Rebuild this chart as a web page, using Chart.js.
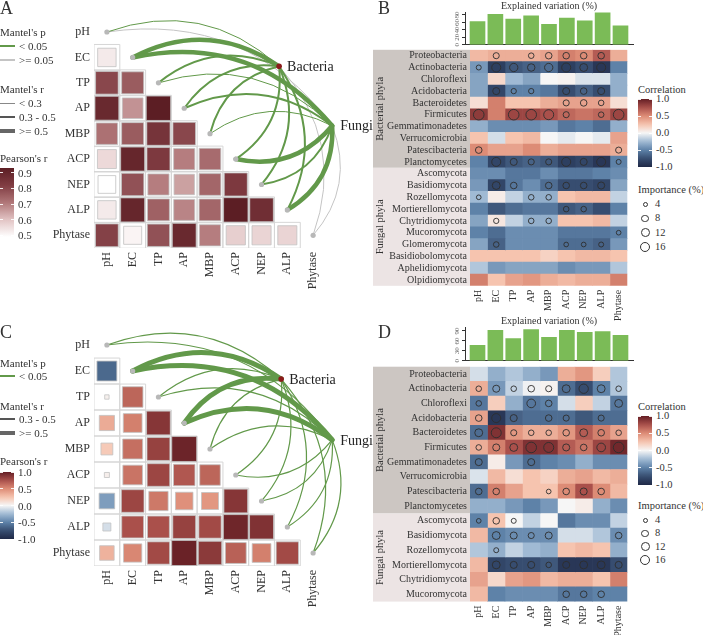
<!DOCTYPE html>
<html>
<head>
<meta charset="utf-8">
<title>Mantel tests and phyla correlations</title>
<script src="https://cdn.jsdelivr.net/npm/chart.js@4.4.1/dist/chart.umd.min.js"></script>
<style>
  body { margin: 0; background: #fff; }
  #page { position: relative; width: 703px; height: 635px; overflow: hidden; font-family: 'Liberation Serif', 'DejaVu Serif', serif; color: #333; }
  #page canvas { position: absolute; }
  .txt { position: absolute; white-space: nowrap; line-height: 1; transform: translateY(-50%); }
  .key { position: absolute; }
</style>
</head>
<body>
<div id="page">
  <canvas id="heatB" width="275" height="300" style="left:360px;top:40px"></canvas>
  <canvas id="heatD" width="275" height="280" style="left:360px;top:355px"></canvas>
  <canvas id="barB" width="260" height="50" style="left:420px;top:0px"></canvas>
  <canvas id="barD" width="260" height="56" style="left:420px;top:310px"></canvas>
  <canvas id="chartA" width="380" height="310" style="left:0px;top:0px"></canvas>
  <canvas id="chartC" width="380" height="325" style="left:0px;top:310px"></canvas>
</div>
<script>
const envLabels = ['pH', 'EC', 'TP', 'AP', 'MBP', 'ACP', 'NEP', 'ALP', 'Phytase'];

// Pearson's r between soil properties (lower triangle, row by row)
const pearsonA = [
  [],
  [0.53],
  [0.80, 0.76],
  [0.89, 0.67, 0.93],
  [0.72, 0.76, 0.85, 0.80],
  [0.56, 0.90, 0.83, 0.70, 0.73],
  [0.49, 0.78, 0.70, 0.65, 0.74, 0.83],
  [0.53, 0.90, 0.75, 0.69, 0.74, 0.93, 0.87],
  [0.81, 0.51, 0.78, 0.89, 0.70, 0.58, 0.57, 0.57]
];
const pearsonC = [
  [],
  [-0.62],
  [0.03, 0.66],
  [0.36, 0.55, 0.88],
  [0.22, 0.62, 0.82, 0.97],
  [0.04, 0.60, 0.80, 0.72, 0.66],
  [-0.38, 0.80, 0.58, 0.48, 0.45, 0.88],
  [-0.10, 0.75, 0.75, 0.82, 0.78, 0.96, 0.90],
  [0.33, 0.52, 0.78, 0.98, 0.86, 0.68, 0.55, 0.78]
];

// Mantel tests (r and p) of each property against the communities
const mantelBacteriaRA = [0.20, 0.62, 0.38, 0.40, 0.35, 0.36, 0.34, 0.38, 0.12];
const mantelBacteriaPA = [0.03, 0.001, 0.005, 0.004, 0.01, 0.006, 0.01, 0.005, 0.32];
const mantelFungiRA = [0.14, 0.58, 0.25, 0.36, 0.22, 0.60, 0.33, 0.58, 0.10];
const mantelFungiPA = [0.21, 0.001, 0.02, 0.008, 0.03, 0.001, 0.01, 0.001, 0.41];
const mantelBacteriaRC = [0.34, 0.62, 0.36, 0.58, 0.35, 0.34, 0.36, 0.35, 0.33];
const mantelBacteriaPC = [0.01, 0.001, 0.01, 0.001, 0.01, 0.01, 0.01, 0.01, 0.02];
const mantelFungiRC = [0.33, 0.60, 0.35, 0.61, 0.34, 0.36, 0.35, 0.34, 0.32];
const mantelFungiPC = [0.02, 0.001, 0.01, 0.001, 0.01, 0.01, 0.01, 0.01, 0.03];

// Explained variation (%) per property
const explainedB = [62, 82, 69, 78, 55, 72, 64, 86, 51];
const explainedD = [47, 92, 67, 94, 71, 92, 86, 88, 77];

const bacteriaB = ['Proteobacteria', 'Actinobacteria', 'Chloroflexi', 'Acidobacteria', 'Bacteroidetes', 'Firmicutes', 'Gemmatimonadetes', 'Verrucomicrobia', 'Patescibacteria', 'Planctomycetes'];
const fungiB = ['Ascomycota', 'Basidiomycota', 'Rozellomycota', 'Mortierellomycota', 'Chytridiomycota', 'Mucoromycota', 'Glomeromycota', 'Basidiobolomycota', 'Aphelidiomycota', 'Olpidiomycota'];
const corrB = [
  [0.30, 0.35, 0.35, 0.35, 0.40, 0.55, 0.50, 0.70, 0.35],
  [-0.40, -0.85, -0.70, -0.65, -0.60, -0.85, -0.75, -0.90, -0.50],
  [-0.35, 0.15, -0.25, -0.35, 0.00, 0.02, -0.08, -0.08, -0.30],
  [-0.35, -0.80, -0.50, -0.50, -0.55, -0.75, -0.65, -0.75, -0.30],
  [0.12, 0.55, 0.25, 0.25, 0.35, 0.40, 0.40, 0.40, 0.12],
  [0.85, 0.55, 0.80, 0.80, 0.75, 0.65, 0.60, 0.65, 0.80],
  [-0.30, -0.45, -0.45, -0.45, -0.40, -0.55, -0.50, -0.60, -0.30],
  [0.25, -0.10, 0.25, 0.30, 0.00, -0.05, 0.00, -0.05, 0.40],
  [0.50, 0.40, 0.40, 0.50, 0.35, 0.40, 0.40, 0.40, 0.35],
  [-0.50, -0.80, -0.70, -0.65, -0.70, -0.85, -0.80, -0.90, -0.50],
  [-0.45, -0.45, -0.55, -0.55, -0.45, -0.55, -0.55, -0.50, -0.45],
  [-0.40, -0.80, -0.55, -0.45, -0.60, -0.75, -0.75, -0.80, -0.35],
  [-0.25, 0.05, -0.15, -0.30, -0.30, 0.25, 0.30, 0.30, -0.15],
  [-0.50, -0.70, -0.60, -0.55, -0.55, -0.70, -0.65, -0.75, -0.50],
  [-0.35, 0.08, -0.15, -0.30, -0.30, 0.25, 0.25, 0.30, -0.15],
  [-0.50, -0.60, -0.45, -0.45, -0.45, -0.55, -0.55, -0.55, -0.50],
  [-0.35, -0.65, -0.45, -0.45, -0.45, -0.60, -0.60, -0.65, -0.40],
  [0.25, 0.25, 0.25, 0.25, 0.18, 0.25, 0.30, 0.30, 0.25],
  [-0.20, -0.40, -0.35, -0.35, -0.35, -0.45, -0.40, -0.40, -0.20],
  [0.55, 0.25, 0.40, 0.45, 0.35, 0.30, 0.35, 0.35, 0.55]
];
// importance (%), 0 = not significant
const importanceB = [
  [0, 6, 0, 5, 7, 7, 7, 7, 0],
  [4, 13, 11, 9, 11, 13, 10, 13, 0],
  [0, 0, 0, 0, 0, 0, 0, 0, 0],
  [0, 8, 4.5, 4.5, 0, 8, 7, 8, 0],
  [0, 0, 0, 0, 0, 6, 7, 5, 0],
  [18, 0, 18, 18, 16, 6, 0, 5, 18],
  [0, 0, 0, 0, 0, 0, 0, 0, 0],
  [0, 0, 0, 0, 0, 0, 0, 0, 0],
  [7, 0, 0, 0, 0, 0, 0, 0, 6],
  [0, 13, 8, 6, 6, 13, 8, 13, 4],
  [0, 0, 0, 0, 0, 0, 0, 0, 0],
  [0, 10, 7, 0, 7, 7, 7, 8, 0],
  [3.5, 0, 0, 5, 5, 0, 0, 0, 0],
  [0, 0, 0, 0, 0, 5, 5, 0, 0],
  [0, 4.5, 0, 5, 5, 0, 0, 0, 0],
  [0, 0, 0, 0, 0, 0, 0, 0, 3.5],
  [0, 5, 0, 0, 0, 3.5, 3.5, 4, 0],
  [0, 0, 0, 0, 0, 0, 0, 0, 0],
  [0, 0, 0, 0, 0, 0, 0, 0, 0],
  [0, 0, 0, 0, 0, 0, 0, 0, 0]
];

const bacteriaD = bacteriaB.slice();
const fungiD = ['Ascomycota', 'Basidiomycota', 'Rozellomycota', 'Mortierellomycota', 'Chytridiomycota', 'Mucoromycota'];
const corrD = [
  [-0.10, -0.30, -0.20, -0.30, -0.40, 0.35, 0.45, 0.20, -0.20],
  [0.35, -0.40, -0.15, -0.02, 0.02, -0.60, -0.75, -0.50, -0.20],
  [-0.55, 0.20, -0.30, -0.55, -0.50, -0.10, 0.20, -0.15, -0.55],
  [0.40, -0.90, -0.65, -0.60, -0.60, -0.60, -0.70, -0.60, -0.60],
  [-0.60, 0.90, 0.45, 0.35, 0.35, 0.45, 0.70, 0.55, 0.40],
  [0.35, 0.55, 0.75, 0.90, 0.90, 0.70, 0.60, 0.80, 0.95],
  [-0.60, 0.05, -0.40, -0.60, -0.50, -0.45, -0.30, -0.45, -0.45],
  [-0.08, 0.30, 0.12, 0.25, 0.18, 0.35, 0.40, 0.30, 0.35],
  [-0.60, 0.55, 0.40, 0.25, 0.25, 0.50, 0.75, 0.50, 0.30],
  [-0.30, -0.30, -0.40, -0.50, -0.40, 0.00, 0.05, -0.30, -0.45],
  [-0.50, 0.25, 0.00, -0.15, 0.00, -0.55, -0.45, -0.45, -0.15],
  [0.30, -0.50, -0.45, -0.45, -0.45, -0.10, -0.10, -0.20, -0.45],
  [-0.20, -0.30, -0.15, -0.25, -0.30, 0.25, 0.30, 0.25, -0.30],
  [0.30, -0.80, -0.75, -0.75, -0.70, -0.90, -0.90, -0.90, -0.75],
  [0.40, 0.15, 0.40, 0.45, 0.30, 0.35, 0.35, 0.25, 0.55],
  [0.30, -0.50, -0.45, -0.45, -0.45, -0.55, -0.55, -0.50, -0.50]
];
const importanceD = [
  [0, 0, 0, 0, 0, 0, 0, 0, 0],
  [5, 8, 5, 7, 6, 10, 14, 10, 5],
  [5, 0, 0, 12, 7, 0, 0, 0, 10],
  [7, 13, 8, 0, 7, 6, 0, 6, 0],
  [10, 16, 6, 5, 5, 7, 10, 7, 5],
  [5, 8, 10, 18, 16, 8, 7, 12, 18],
  [8, 0, 0, 8, 0, 0, 0, 0, 0],
  [0, 0, 0, 0, 0, 0, 0, 0, 0],
  [7, 7, 0, 0, 3.5, 7, 8, 7, 0],
  [0, 0, 0, 0, 0, 0, 0, 0, 0],
  [3.5, 7, 4, 0, 0, 0, 0, 0, 0],
  [0, 10, 8, 6, 8, 0, 0, 0, 7],
  [0, 4, 0, 0, 0, 0, 0, 0, 0],
  [0, 10, 8, 8, 5, 8, 10, 10, 8],
  [0, 0, 0, 0, 0, 0, 0, 0, 0],
  [0, 0, 0, 0, 0, 7, 7, 7, 0]
];
const importanceKeys = [4, 8, 12, 16];

// colour ramps
const divergingStops = [
  [-1.0, [31, 41, 71]],
  [-0.75, [55, 77, 112]],
  [-0.5, [94, 130, 168]],
  [-0.25, [160, 186, 212]],
  [0.0, [246, 246, 246]],
  [0.25, [246, 196, 175]],
  [0.5, [221, 140, 118]],
  [0.75, [170, 80, 75]],
  [1.0, [100, 30, 36]]
];
const redStops = [
  [0.49, [255, 255, 255]],
  [0.60, [226, 196, 196]],
  [0.71, [176, 118, 120]],
  [0.82, [128, 60, 66]],
  [0.93, [92, 30, 36]]
];
const GREEN = '#62994a';
const GREY = '#c4c4c4';

function rampColor(stops, v) {
  if (v <= stops[0][0]) return `rgb(${stops[0][1].join(',')})`;
  for (let i = 1; i < stops.length; i++) {
    if (v <= stops[i][0]) {
      const [v0, c0] = stops[i - 1];
      const [v1, c1] = stops[i];
      const t = (v - v0) / (v1 - v0);
      return `rgb(${c0.map((c, k) => Math.round(c + (c1[k] - c) * t)).join(',')})`;
    }
  }
  return `rgb(${stops[stops.length - 1][1].join(',')})`;
}

function importanceRadius(v) {
  return 1.25 * Math.sqrt(v);
}

Chart.defaults.font.family = "'Liberation Serif', 'DejaVu Serif', serif";
Chart.defaults.color = '#333';
Chart.defaults.animation = false;
Chart.defaults.responsive = false;
Chart.defaults.events = [];
Chart.defaults.plugins.legend.display = false;
Chart.defaults.plugins.tooltip.enabled = false;

function linkPlugin(links, nodes, widths) {
  const widthFor = (r) => (r >= 0.5 ? widths[2] : r >= 0.3 ? widths[1] : widths[0]);
  return {
    id: 'mantelLinks',
    beforeDatasetsDraw(chart) {
      const { ctx, scales: { x, y } } = chart;
      // curves bend away from the middle of the triangle
      const cx = x.getPixelForValue(2.67);
      const cy = y.getPixelForValue(5.33);
      const ordered = links.slice().sort((a, b) => (b.p >= 0.05) - (a.p >= 0.05));
      ctx.save();
      ctx.lineCap = 'round';
      for (const link of ordered) {
        const node = nodes[link.node];
        const sx = x.getPixelForValue(link.env);
        const sy = y.getPixelForValue(link.env);
        const ex = x.getPixelForValue(node.x);
        const ey = y.getPixelForValue(node.y);
        const mx = (sx + ex) / 2;
        const my = (sy + ey) / 2;
        const len = Math.hypot(ex - sx, ey - sy);
        let nx = -(ey - sy) / len;
        let ny = (ex - sx) / len;
        if ((cx - mx) * nx + (cy - my) * ny > 0) {
          nx = -nx;
          ny = -ny;
        }
        ctx.beginPath();
        ctx.moveTo(sx, sy);
        ctx.quadraticCurveTo(mx + nx * len * 0.3, my + ny * len * 0.3, ex, ey);
        ctx.lineWidth = widthFor(link.r);
        ctx.strokeStyle = link.p < 0.05 ? GREEN : GREY;
        ctx.stroke();
      }
      ctx.restore();
    },
    afterDatasetsDraw(chart) {
      const { ctx, scales: { x, y } } = chart;
      ctx.save();
      ctx.font = "14px 'Liberation Serif', serif";
      ctx.fillStyle = '#222';
      ctx.textBaseline = 'middle';
      for (const node of nodes) {
        ctx.fillText(node.name, x.getPixelForValue(node.x) + 8, y.getPixelForValue(node.y) + 1);
      }
      ctx.restore();
    }
  };
}

function buildTriangle(canvasId, pearson, colorOf, links, nodes, widths, padTop, axisHeight) {
  const cells = [];
  pearson.forEach((row, i) => row.forEach((r, j) => cells.push({ x: j, y: i, r })));
  const cellPx = 25.9;
  const tickSetup = (s) => { s.ticks = envLabels.map((_, i) => ({ value: i })); };

  return new Chart(document.getElementById(canvasId), {
    type: 'scatter',
    data: {
      datasets: [
        {
          data: cells.map((c) => ({ x: c.x, y: c.y })),
          order: 4,
          pointStyle: 'rect',
          pointRadius: cellPx / Math.SQRT2,
          pointBackgroundColor: 'rgba(0,0,0,0)',
          pointBorderColor: '#d6d6d6',
          pointBorderWidth: 1
        },
        {
          data: cells,
          order: 3,
          pointStyle: 'rect',
          pointRadius: cells.map((c) => (25.3 * Math.sqrt(Math.abs(c.r))) / Math.SQRT2),
          pointBackgroundColor: cells.map((c) => colorOf(c.r)),
          pointBorderColor: '#c2c2c2',
          pointBorderWidth: 0.8
        },
        {
          data: envLabels.map((_, i) => ({ x: i, y: i })),
          order: 2,
          pointRadius: 2.6,
          pointBackgroundColor: '#b8b8b8',
          pointBorderWidth: 0
        },
        {
          data: nodes.map((n) => ({ x: n.x, y: n.y })),
          order: 1,
          clip: false,
          pointRadius: 2.8,
          pointBackgroundColor: '#8b1a1a',
          pointBorderWidth: 0
        }
      ]
    },
    options: {
      layout: { padding: { top: padTop, right: 54, left: 0, bottom: 0 } },
      scales: {
        x: {
          type: 'linear',
          min: -0.5,
          max: 8.5,
          afterBuildTicks: tickSetup,
          afterFit: (s) => { s.height = axisHeight; },
          ticks: { autoSkip: false, minRotation: 90, maxRotation: 90, padding: 4, font: { size: 12 }, color: '#333', callback: (v) => envLabels[v] },
          grid: { display: false, drawTicks: false },
          border: { display: false }
        },
        y: {
          type: 'linear',
          reverse: true,
          min: -0.5,
          max: 8.5,
          afterBuildTicks: tickSetup,
          afterFit: (s) => { s.width = 94; },
          ticks: { autoSkip: false, padding: 4, font: { size: 12 }, color: '#333', callback: (v) => envLabels[v] },
          grid: { display: false, drawTicks: false },
          border: { display: false }
        }
      }
    },
    plugins: [linkPlugin(links, nodes, widths)]
  });
}

function mantelLinks(bactR, bactP, fungR, fungP) {
  return envLabels.flatMap((_, i) => [
    { env: i, node: 0, r: bactR[i], p: bactP[i] },
    { env: i, node: 1, r: fungR[i], p: fungP[i] }
  ]);
}

function groupBandPlugin(groups) {
  return {
    id: 'groupBands',
    beforeDraw(chart) {
      const { ctx, chartArea, scales: { y } } = chart;
      const half = (y.getPixelForValue(1) - y.getPixelForValue(0)) / 2;
      const bandLeft = 13;
      ctx.save();
      for (const g of groups) {
        const top = y.getPixelForValue(g.start) - half;
        const bottom = y.getPixelForValue(g.end) + half;
        ctx.fillStyle = g.color;
        ctx.fillRect(bandLeft, top, chartArea.left - bandLeft, bottom - top);
        ctx.save();
        ctx.translate(bandLeft + 7, (top + bottom) / 2);
        ctx.rotate(-Math.PI / 2);
        ctx.font = "10.5px 'Liberation Serif', serif";
        ctx.fillStyle = '#333';
        ctx.textAlign = 'center';
        ctx.textBaseline = 'middle';
        ctx.fillText(g.label, 0, 0);
        ctx.restore();
      }
      ctx.restore();
    }
  };
}

function buildHeatmap(canvasId, bacteria, fungi, corr, importance, padTop, padRight, axisHeight) {
  const phyla = bacteria.concat(fungi);
  const datasets = envLabels.map((env, j) => ({
    type: 'bar',
    label: env,
    indexAxis: 'y',
    stack: 'cells',
    order: 2,
    data: phyla.map(() => 1),
    backgroundColor: corr.map((row) => rampColor(divergingStops, row[j])),
    borderWidth: 0,
    barPercentage: 1,
    categoryPercentage: 1
  }));

  const circles = [];
  importance.forEach((row, i) => row.forEach((v, j) => {
    if (v > 0) circles.push({ x: j + 0.5, y: phyla[i], v });
  }));
  datasets.push({
    type: 'scatter',
    order: 1,
    data: circles,
    pointRadius: circles.map((c) => importanceRadius(c.v)),
    pointBackgroundColor: 'rgba(0,0,0,0)',
    pointBorderColor: '#2e2e2e',
    pointBorderWidth: 0.9
  });

  return new Chart(document.getElementById(canvasId), {
    type: 'bar',
    data: { labels: phyla, datasets },
    options: {
      layout: { padding: { top: padTop, right: padRight, left: 0, bottom: 0 } },
      scales: {
        x: {
          type: 'linear',
          min: 0,
          max: envLabels.length,
          offset: false,
          afterBuildTicks: (s) => { s.ticks = envLabels.map((_, j) => ({ value: j + 0.5 })); },
          afterFit: (s) => { s.height = axisHeight; },
          ticks: { autoSkip: false, minRotation: 90, maxRotation: 90, padding: 4, font: { size: 10 }, color: '#333', callback: (v) => envLabels[Math.floor(v)] },
          grid: { display: false, drawTicks: false },
          border: { display: false }
        },
        y: {
          type: 'category',
          offset: true,
          afterFit: (s) => { s.width = 110; },
          ticks: { autoSkip: false, padding: 3, font: { size: 10 }, color: '#333' },
          grid: { display: false, drawTicks: false },
          border: { display: false }
        }
      }
    },
    plugins: [groupBandPlugin([
      { label: 'Bacterial phyla', start: 0, end: bacteria.length - 1, color: '#ccc6c2' },
      { label: 'Fungal phyla', start: bacteria.length, end: phyla.length - 1, color: '#ece4e4' }
    ])]
  });
}

function buildBars(canvasId, values, yMax, tickValues, padTop) {
  return new Chart(document.getElementById(canvasId), {
    type: 'bar',
    data: {
      datasets: [{
        data: values.map((v, i) => ({ x: i, y: v })),
        backgroundColor: '#7bbb57',
        barThickness: 15
      }]
    },
    options: {
      layout: { padding: { top: padTop, right: 47, left: 0, bottom: 0 } },
      plugins: {
        title: { display: true, fullSize: false, text: 'Explained variation (%)', font: { size: 10, weight: 'normal' }, color: '#333', padding: 0 }
      },
      scales: {
        x: {
          type: 'linear',
          min: -0.7,
          max: 8.7,
          offset: false,
          afterFit: (s) => { s.height = 2; },
          ticks: { display: false },
          grid: { display: false, drawTicks: false },
          border: { color: '#333', width: 1 }
        },
        y: {
          min: 0,
          max: yMax,
          afterBuildTicks: (s) => { s.ticks = tickValues.map((v) => ({ value: v })); },
          afterFit: (s) => { s.width = 45; },
          ticks: { autoSkip: false, minRotation: 90, maxRotation: 90, crossAlign: 'center', padding: 1, font: { size: 7 }, color: '#666' },
          grid: { drawOnChartArea: false, tickLength: 3, color: '#333' },
          border: { color: '#333', width: 1 }
        }
      }
    }
  });
}

// legends (html)
const page = document.getElementById('page');

function addText(x, y, text, size) {
  const el = document.createElement('div');
  el.className = 'txt';
  el.style.left = `${x}px`;
  el.style.top = `${y}px`;
  el.style.fontSize = `${size}px`;
  el.textContent = text;
  page.appendChild(el);
}

function addBox(x, y, w, h, css) {
  const el = document.createElement('div');
  el.className = 'key';
  el.style.left = `${x}px`;
  el.style.top = `${y}px`;
  el.style.width = `${w}px`;
  el.style.height = `${h}px`;
  Object.assign(el.style, css);
  page.appendChild(el);
}

function addLineKey(x, y, thickness, color, label) {
  addBox(x, y - thickness / 2, 15, thickness, { background: color });
  addText(x + 19, y, label, 11);
}

function addColorbar(x, y, w, h, colorOf, vMin, vMax, ticks, size) {
  const steps = [];
  for (let i = 0; i <= 20; i++) {
    const v = vMin + ((vMax - vMin) * i) / 20;
    steps.push(`${colorOf(v)} ${i * 5}%`);
  }
  addBox(x, y, w, h, { background: `linear-gradient(to top, ${steps.join(', ')})` });
  for (const t of ticks) {
    const ty = y + ((vMax - t) / (vMax - vMin)) * h;
    addBox(x, ty - 0.5, 3, 1, { background: 'rgba(255,255,255,0.9)' });
    addBox(x + w - 3, ty - 0.5, 3, 1, { background: 'rgba(255,255,255,0.9)' });
    addText(x + w + 4, ty, t.toFixed(1), size);
  }
}

function addImportanceKey(x, y, gap) {
  addText(x, y, 'Importance (%)', 10.5);
  importanceKeys.forEach((v, i) => {
    const r = importanceRadius(v);
    const cy = y + 14 + i * gap;
    addBox(x + 7 - r, cy - r, 2 * r - 1.8, 2 * r - 1.8, { border: '0.9px solid #333', borderRadius: '50%' });
    addText(x + 17, cy, String(v), 10.5);
  });
}

const redOf = (v) => rampColor(redStops, v);
const divOf = (v) => rampColor(divergingStops, v);

buildTriangle('chartA', pearsonA, redOf,
  mantelLinks(mantelBacteriaRA, mantelBacteriaPA, mantelFungiRA, mantelFungiPA),
  [{ name: 'Bacteria', x: 6.68, y: 1.35 }, { name: 'Fungi', x: 8.74, y: 3.69 }],
  [1, 2, 4.5], 14, 62);

buildTriangle('chartC', pearsonC, divOf,
  mantelLinks(mantelBacteriaRC, mantelBacteriaPC, mantelFungiRC, mantelFungiPC),
  [{ name: 'Bacteria', x: 6.76, y: 1.31 }, { name: 'Fungi', x: 8.74, y: 3.65 }],
  [0.8, 1.2, 5], 22, 69);

buildBars('barB', explainedB, 88, [0, 20, 40, 60, 80], 0);
buildBars('barD', explainedD, 101, [0, 30, 60, 90], 5.3);

buildHeatmap('heatB', bacteriaB, fungiB, corrB, importanceB, 9.8, 5.7, 54.2);
buildHeatmap('heatD', bacteriaD, fungiD, corrD, importanceD, 11.7, 5, 33.4);

// panel A legend
addText(0, 8, 'A', 18);
addText(0, 32, "Mantel's p", 11);
addLineKey(0, 46, 1.3, GREEN, '< 0.05');
addLineKey(0, 60, 1.3, GREY, '>= 0.05');
addText(0, 89, "Mantel's r", 11);
addLineKey(0, 103, 1, '#888', '< 0.3');
addLineKey(0, 117, 2, '#555', '0.3 - 0.5');
addLineKey(0, 131, 4.5, '#666', '>= 0.5');
addText(0, 158, "Pearson's r", 11);
addColorbar(0, 168, 14, 69, redOf, 0.49, 0.93, [0.9, 0.8, 0.7, 0.6, 0.5], 11);

// panel C legend
addText(0, 332, 'C', 18);
addText(0, 363, "Mantel's p", 11);
addLineKey(0, 376, 1.3, GREEN, '< 0.05');
addText(0, 406, "Mantel's r", 11);
addLineKey(0, 419, 1.3, '#555', '0.3 - 0.5');
addLineKey(0, 433, 4.5, '#666', '>= 0.5');
addText(0, 461, "Pearson's r", 11);
addColorbar(0, 472, 14, 67, divOf, -1, 1, [1, 0.5, 0, -0.5, -1], 11);

// panel B legend
addText(378, 8, 'B', 18);
addText(638, 90, 'Correlation', 10.5);
addColorbar(638, 99, 14, 68, divOf, -1, 1, [1, 0.5, 0, -0.5, -1], 10.5);
addImportanceKey(638, 190, 14.3);

// panel D legend
addText(378, 332, 'D', 18);
addText(638, 407, 'Correlation', 10.5);
addColorbar(638, 416, 14, 69, divOf, -1, 1, [1, 0.5, 0, -0.5, -1], 10.5);
addImportanceKey(638, 506, 13.4);
</script>
</body>
</html>
